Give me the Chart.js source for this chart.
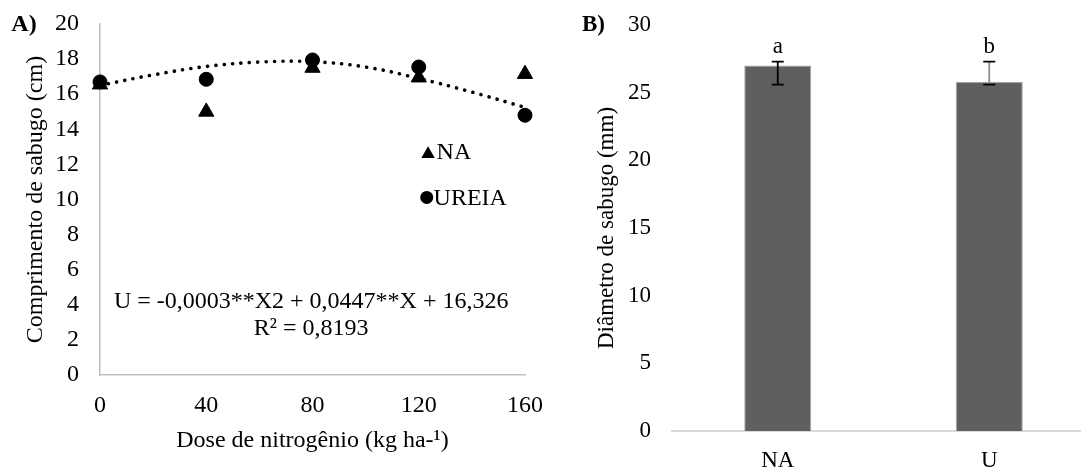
<!DOCTYPE html>
<html>
<head>
<meta charset="utf-8">
<title>Sabugo</title>
<script src="https://cdn.jsdelivr.net/npm/chart.js@4.4.1/dist/chart.umd.min.js"></script>
<style>
  html, body { margin: 0; padding: 0; background: #fff; overflow: hidden; }
  #wrap { position: relative; width: 1081px; height: 468px; overflow: hidden; }
  #chartA { position: absolute; left: 0; top: 0; }
  #chartB { position: absolute; left: 560px; top: 0; }
</style>
</head>
<body>
<div id="wrap">
  <canvas id="chartA" width="560" height="468"></canvas>
  <canvas id="chartB" width="550" height="468"></canvas>
</div>
<script>
// --- painel A: comprimento de sabugo ---
const doses = [0, 40, 80, 120, 160];
const naValues = [16.55, 15.0, 17.5, 16.95, 17.15];
const ureiaValues = [16.7, 16.85, 17.95, 17.55, 14.8];
const trendDoses = [0, 20, 40, 60, 80, 100, 120, 140, 160];
const trendValues = [16.5, 17.1, 17.58, 17.83, 17.85, 17.55, 16.9, 16.12, 15.25];
const seriesLabels = ["NA", "UREIA"];
const equationLines = ["U = -0,0003**X2 + 0,0447**X + 16,326", "R² = 0,8193"];
const yTitleA = "Comprimento de sabugo (cm)";
const xTitleA = "Dose de nitrogênio (kg ha-¹)";

// --- painel B: diâmetro de sabugo ---
const treatments = ["NA", "U"];
const diameterValues = [27.0, 25.8];
const errorHigh = [27.3, 27.3];
const errorLow = [25.6, 25.6];
const sigLetters = ["a", "b"];
const yTitleB = "Diâmetro de sabugo (mm)";

const serif = '"Liberation Serif", "Times New Roman", serif';
const sizeA = 24;
const sizeB = 23;
Chart.defaults.font.family = serif;
Chart.defaults.color = "#000";

const toXY = (xs, ys) => xs.map((x, i) => ({ x: x, y: ys[i] }));

// tira o espaço extra que o Chart.js reserva acima/abaixo do eixo y
const fixYAxis = (width) => (scale) => {
  scale.width = width;
  scale.paddingTop = 0;
  scale.paddingBottom = 0;
};

const drawTriangle = (ctx, cx, cy, w) => {
  const h = w * Math.sqrt(3) / 2;
  ctx.beginPath();
  ctx.moveTo(cx, cy - h / 2);
  ctx.lineTo(cx + w / 2, cy + h / 2);
  ctx.lineTo(cx - w / 2, cy + h / 2);
  ctx.closePath();
  ctx.fill();
};

const textPluginA = {
  id: "textA",
  afterDraw(chart) {
    const { ctx, scales: { x, y } } = chart;
    ctx.save();
    ctx.fillStyle = "#000";
    ctx.textBaseline = "middle";

    ctx.font = "bold " + sizeA + "px " + serif;
    ctx.textAlign = "center";
    ctx.fillText("A)", 24, 25);

    ctx.font = sizeA + "px " + serif;
    ctx.fillText(equationLines[0], x.getPixelForValue(79.5), y.getPixelForValue(4.15));
    ctx.fillText(equationLines[1], x.getPixelForValue(79.5), y.getPixelForValue(2.65));

    // legenda dentro da área do gráfico
    ctx.textAlign = "left";
    const lx = x.getPixelForValue(123.5);
    const ly1 = y.getPixelForValue(12.7);
    const ly2 = y.getPixelForValue(10.12);
    drawTriangle(ctx, lx, ly1, 13.5);
    ctx.fillText(seriesLabels[0], lx + 8.5, ly1 + 1);
    ctx.beginPath();
    ctx.arc(lx - 1.3, ly2, 6.5, 0, Math.PI * 2);
    ctx.fill();
    ctx.fillText(seriesLabels[1], lx + 5.5, ly2 + 1);
    ctx.restore();
  },
};

const chartA = new Chart(document.querySelector("#chartA"), {
  type: "scatter",
  data: {
    datasets: [
      {
        label: seriesLabels[0],
        data: toXY(doses, naValues),
        pointStyle: "triangle",
        pointRadius: 8.8,
        backgroundColor: "#000",
        borderColor: "#000",
        borderWidth: 1,
        clip: false,
        order: 1,
      },
      {
        label: seriesLabels[1],
        data: toXY(doses, ureiaValues),
        pointStyle: "circle",
        pointRadius: 7,
        backgroundColor: "#000",
        borderColor: "#000",
        borderWidth: 1,
        clip: false,
        order: 1,
      },
      {
        label: "Polinomial (UREIA)",
        type: "line",
        data: toXY(trendDoses, trendValues),
        showLine: true,
        borderColor: "#000",
        borderWidth: 3.6,
        borderDash: [0.1, 8.3],
        borderCapStyle: "round",
        tension: 0.4,
        pointRadius: 0,
        clip: false,
        order: 2,
      },
    ],
  },
  options: {
    responsive: false,
    animation: false,
    font: { size: sizeA },
    layout: { padding: { left: 0, right: 35, top: 24, bottom: 0 } },
    plugins: { legend: { display: false }, tooltip: { enabled: false } },
    scales: {
      x: {
        type: "linear",
        min: 0,
        max: 160,
        ticks: { stepSize: 40, padding: 16, font: { size: sizeA } },
        grid: { display: false, drawTicks: false },
        border: { display: true, color: "#bfbfbf", width: 1.5 },
        title: { display: true, text: xTitleA, font: { size: sizeA }, padding: { top: 0, bottom: 13 } },
        afterFit: (scale) => { scale.height = 93; },
      },
      y: {
        min: 0,
        max: 20,
        ticks: { stepSize: 2, padding: 21, font: { size: sizeA } },
        grid: { display: false, drawTicks: false },
        border: { display: true, color: "#bfbfbf", width: 1.5 },
        title: { display: true, text: yTitleA, font: { size: sizeA }, padding: { top: 21, bottom: 0 } },
        afterFit: fixYAxis(100),
      },
    },
  },
  plugins: [textPluginA],
});

const errorBarPlugin = {
  id: "errorBars",
  afterDatasetsDraw(chart) {
    const { ctx, scales: { y } } = chart;
    const meta = chart.getDatasetMeta(0);
    const stemColors = ["#000", "#8c8c8c"];
    ctx.save();
    meta.data.forEach((bar, i) => {
      const top = y.getPixelForValue(errorHigh[i]);
      const bottom = y.getPixelForValue(errorLow[i]);
      ctx.lineWidth = 1.8;
      ctx.strokeStyle = stemColors[i];
      ctx.beginPath();
      ctx.moveTo(bar.x, top);
      ctx.lineTo(bar.x, bottom);
      ctx.stroke();
      ctx.strokeStyle = "#000";
      ctx.beginPath();
      ctx.moveTo(bar.x - 6, top);
      ctx.lineTo(bar.x + 6, top);
      ctx.moveTo(bar.x - 6, bottom);
      ctx.lineTo(bar.x + 6, bottom);
      ctx.stroke();

      ctx.fillStyle = "#000";
      ctx.font = sizeB + "px " + serif;
      ctx.textAlign = "center";
      ctx.textBaseline = "alphabetic";
      ctx.fillText(sigLetters[i], bar.x, top - 9);
    });
    ctx.font = "bold " + sizeB + "px " + serif;
    ctx.textBaseline = "middle";
    ctx.fillText("B)", 33.5, 25);
    ctx.restore();
  },
};

const chartB = new Chart(document.querySelector("#chartB"), {
  type: "bar",
  data: {
    labels: treatments,
    datasets: [
      {
        label: yTitleB,
        data: diameterValues,
        backgroundColor: "#5f5f5f",
        borderColor: "#a6a6a6",
        borderWidth: 1,
        categoryPercentage: 1,
        barPercentage: 0.317,
      },
    ],
  },
  options: {
    responsive: false,
    animation: false,
    layout: { padding: { left: 0, right: 15, top: 25, bottom: 0 } },
    plugins: { legend: { display: false }, tooltip: { enabled: false } },
    scales: {
      x: {
        ticks: { padding: 16, font: { size: sizeB } },
        grid: { display: false, drawTicks: false },
        border: { display: true, color: "#d9d9d9", width: 2 },
        afterFit: (scale) => { scale.height = 37; },
      },
      y: {
        min: 0,
        max: 30,
        ticks: { stepSize: 5, padding: 21, font: { size: sizeB } },
        grid: { display: false, drawTicks: false },
        border: { display: false },
        title: { display: true, text: yTitleB, font: { size: sizeB }, padding: { top: 33, bottom: 0 } },
        afterFit: fixYAxis(112),
      },
    },
  },
  plugins: [errorBarPlugin],
});
</script>
</body>
</html>
